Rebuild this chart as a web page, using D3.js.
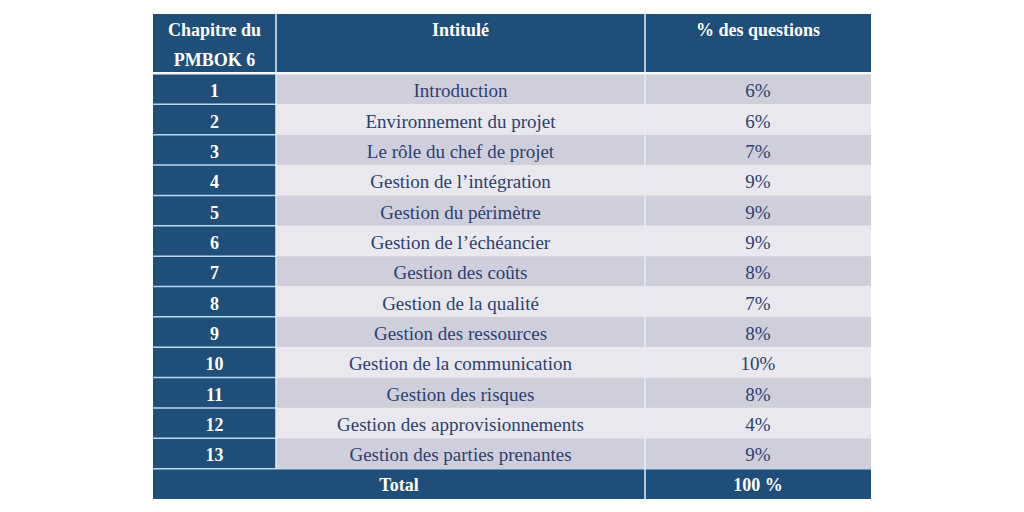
<!DOCTYPE html>
<html><head><meta charset="utf-8">
<script src="https://cdn.jsdelivr.net/npm/d3@7"></script>
<style>body{margin:0;background:#fff;}svg{display:block;}</style>
</head><body>
<svg id="c" width="1024" height="512"></svg>
<script>
const chapters = ["1","2","3","4","5","6","7","8","9","10","11","12","13"];
const titles = ["Introduction","Environnement du projet","Le rôle du chef de projet","Gestion de l’intégration","Gestion du périmètre","Gestion de l’échéancier","Gestion des coûts","Gestion de la qualité","Gestion des ressources","Gestion de la communication","Gestion des risques","Gestion des approvisionnements","Gestion des parties prenantes"];
const percents = ["6%","6%","7%","9%","9%","9%","8%","7%","8%","10%","8%","4%","9%"];
const headers = [["Chapitre du","PMBOK 6"],["Intitulé"],["% des questions"]];
const totalLabel = "Total";
const totalValue = "100 %";

const svg = d3.select("#c");
const dark = "#1f4e79", odd = "#cfcfdb", even = "#e8e8ee", txt = "#2c3f70", sep = "#bcd5ec";
const font = "'Liberation Serif', serif";
const colEdges = [153, 276, 645, 871];
const hTop = 14, hBot = 73;
const rowKeys = chapters.concat(["total"]);
const y = d3.scaleBand().domain(rowKeys).range([74, 499]).paddingInner(0);

// header
svg.append("rect").attr("x",colEdges[0]).attr("y",hTop).attr("width",colEdges[3]-colEdges[0]).attr("height",hBot-hTop).attr("fill",dark);
headers.forEach((lines,i)=>{
  const cx=(colEdges[i]+colEdges[i+1])/2;
  lines.forEach((l,j)=>{
    svg.append("text").attr("x",cx).attr("y",36+j*30).attr("text-anchor","middle")
      .attr("font-family",font).attr("font-weight","bold").attr("font-size",18).attr("fill","#fff").text(l);
  });
});

// rows
chapters.forEach((c,i)=>{
  const y0=y(c), h=y.bandwidth();
  svg.append("rect").attr("x",colEdges[0]).attr("y",y0).attr("width",colEdges[1]-colEdges[0]).attr("height",h).attr("fill",dark);
  svg.append("rect").attr("x",colEdges[1]).attr("y",y0).attr("width",colEdges[3]-colEdges[1]).attr("height",h).attr("fill",i%2===0?odd:even);
  const cy=y0+h/2+8;
  svg.append("text").attr("x",(colEdges[0]+colEdges[1])/2).attr("y",cy).attr("text-anchor","middle")
    .attr("font-family",font).attr("font-weight","bold").attr("font-size",18).attr("fill","#fff").text(c);
  svg.append("text").attr("x",(colEdges[1]+colEdges[2])/2).attr("y",cy).attr("text-anchor","middle")
    .attr("font-family",font).attr("font-size",19).attr("fill",txt).text(titles[i]);
  svg.append("text").attr("x",(colEdges[2]+colEdges[3])/2).attr("y",cy).attr("text-anchor","middle")
    .attr("font-family",font).attr("font-size",19).attr("fill",txt).text(percents[i]);
  if(i>0){
    svg.append("line").attr("x1",colEdges[0]).attr("x2",colEdges[1]).attr("y1",y0).attr("y2",y0).attr("stroke",sep).attr("stroke-width",1.5);
  }
});

// total
const yt=y("total"), ht=y.bandwidth();
svg.append("rect").attr("x",colEdges[0]).attr("y",yt).attr("width",colEdges[3]-colEdges[0]).attr("height",ht).attr("fill",dark);
svg.append("line").attr("x1",colEdges[0]).attr("x2",colEdges[3]).attr("y1",yt).attr("y2",yt).attr("stroke",sep).attr("stroke-width",1.5);
svg.append("text").attr("x",(colEdges[0]+colEdges[2])/2).attr("y",yt+ht/2+7).attr("text-anchor","middle")
  .attr("font-family",font).attr("font-weight","bold").attr("font-size",18).attr("fill","#fff").text(totalLabel);
svg.append("text").attr("x",(colEdges[2]+colEdges[3])/2).attr("y",yt+ht/2+7).attr("text-anchor","middle")
  .attr("font-family",font).attr("font-weight","bold").attr("font-size",18).attr("fill","#fff").text(totalValue);

// header bottom white gap
svg.append("rect").attr("x",colEdges[0]).attr("y",hBot-1).attr("width",colEdges[3]-colEdges[0]).attr("height",2.5).attr("fill","#f4f8fc");

// column separators
svg.append("line").attr("x1",colEdges[1]).attr("x2",colEdges[1]).attr("y1",hTop).attr("y2",yt).attr("stroke","#e6eef7").attr("stroke-width",1.5);
svg.append("line").attr("x1",colEdges[2]).attr("x2",colEdges[2]).attr("y1",hTop).attr("y2",499).attr("stroke","#e6eef7").attr("stroke-width",1.5);
</script>
</body></html>
